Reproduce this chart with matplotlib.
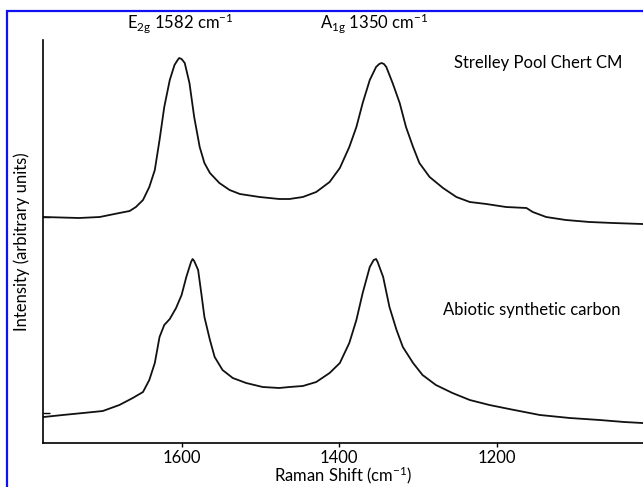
import matplotlib
matplotlib.use('Agg')
import matplotlib.pyplot as plt
from matplotlib.patches import Rectangle

plt.rcParams['font.family'] = ['Lato', 'DejaVu Sans']
plt.rcParams['mathtext.default'] = 'regular'

# Strelley Pool Chert CM (верхний спектр)
shift_top = [1776, 1730, 1704, 1679, 1666, 1658, 1649, 1641, 1634, 1628, 1622, 1615,
             1609, 1605, 1603, 1600, 1596, 1590, 1584, 1577, 1571, 1564, 1552, 1539, 1526, 1501,
             1476, 1463, 1446, 1429, 1412, 1399, 1387, 1378, 1370, 1361, 1353, 1349, 1346,
             1343, 1340, 1332, 1323, 1315, 1306, 1298, 1285, 1268, 1251, 1234, 1213, 1188,
             1162, 1154, 1137, 1112, 1082, 1052, 1015]
int_top = [226, 225, 226, 230, 232, 236, 243, 256, 273, 303, 336, 363,
           378, 383, 385, 384, 380, 360, 326, 296, 280, 270, 260, 253, 249, 246,
           244, 244, 246, 251, 261, 275, 296, 316, 340, 363, 376, 379, 380,
           379, 376, 360, 340, 316, 296, 280, 266, 255, 246, 241, 239, 236,
           235, 231, 226, 223, 221, 220, 219]

# Abiotic synthetic carbon (нижний спектр)
shift_bot = [1775, 1751, 1725, 1700, 1679, 1662, 1649, 1641, 1634, 1628, 1622, 1615,
             1607, 1600, 1594, 1588, 1586, 1584, 1579, 1575, 1571, 1564, 1558, 1548, 1535,
             1518, 1497, 1476, 1463, 1446, 1429, 1412, 1399, 1387, 1378, 1370, 1361,
             1356, 1353, 1351, 1344, 1336, 1327, 1319, 1306, 1294, 1277, 1256, 1234, 1209,
             1184, 1145, 1107, 1069, 1038, 1015]
int_bot = [26, 28, 30, 32, 38, 45, 51, 63, 80, 106, 118, 124,
           135, 148, 166, 181, 184, 182, 173, 150, 126, 103, 86, 73, 65,
           60, 56, 55, 56, 57, 61, 70, 80, 100, 123, 150, 176,
           183, 184, 181, 166, 136, 113, 96, 80, 68, 58, 50, 43, 38,
           34, 28, 25, 23, 21, 20]

xticks = [1600, 1400, 1200]
baselines = [226, 30]

fig = plt.figure(figsize=(6.43, 4.87), dpi=100)
ax = fig.add_axes([43 / 643, 44 / 487, 1 - 43 / 643, 403 / 487])

ax.plot(shift_top, int_top, color='#111111', lw=1.3)
ax.plot(shift_bot, int_bot, color='#111111', lw=1.3)

ax.set_xlim(1776, 1014)
ax.set_ylim(0, 403)
ax.set_xticks(xticks)
ax.set_yticks(baselines)
ax.set_yticklabels([])
ax.tick_params(axis='x', direction='out', length=3, width=1, labelsize=12, pad=2)
ax.tick_params(axis='y', direction='in', length=5, width=1)

for s in ['top', 'right']:
    ax.spines[s].set_visible(False)
for s in ['left', 'bottom']:
    ax.spines[s].set_linewidth(1.2)

ax.set_xlabel('Raman Shift (cm$^{-1}$)', fontsize=12, labelpad=-1)
ax.set_ylabel('Intensity (arbitrary units)', fontsize=12, labelpad=6)

# подписи пиков
fig.text(180 / 643, 1 - 23 / 487, 'E$_{2g}$ 1582 cm$^{-1}$', ha='center', va='center', fontsize=12)
fig.text(374 / 643, 1 - 23 / 487, 'A$_{1g}$ 1350 cm$^{-1}$', ha='center', va='center', fontsize=12)
fig.text(454 / 643, 1 - 63 / 487, 'Strelley Pool Chert CM', ha='left', va='center', fontsize=12)
fig.text(443 / 643, 1 - 310 / 487, 'Abiotic synthetic carbon', ha='left', va='center', fontsize=12)

# синяя рамка (обрезана справа и снизу)
fig.patches.append(Rectangle((7 / 643, -0.2), 2, 1.2 - 11 / 487, transform=fig.transFigure,
                             fill=False, edgecolor='#1010f0', lw=1.6, clip_on=False))

fig.savefig('out.png', dpi=100)
